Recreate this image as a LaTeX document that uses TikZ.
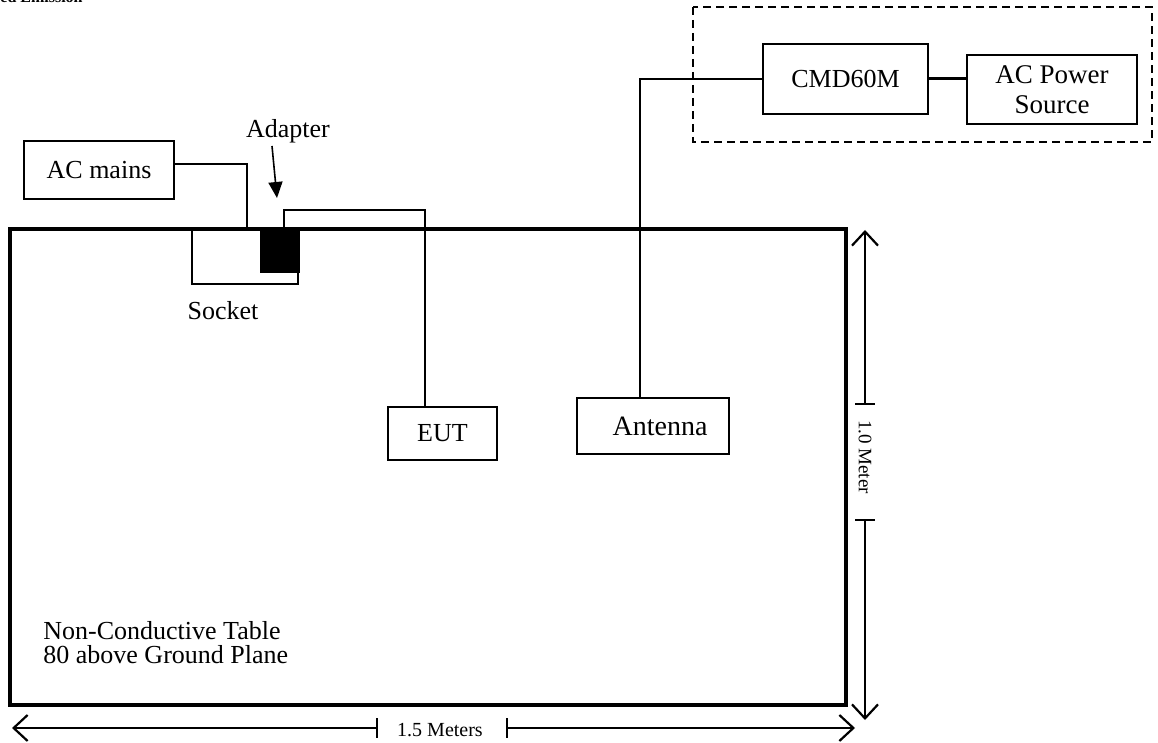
\documentclass[tikz,border=0pt]{standalone}
\usepackage{fontspec}
\setmainfont{Liberation Serif}
\usetikzlibrary{arrows.meta}

\begin{document}
\begin{tikzpicture}[x=0.5pt,y=-0.5pt,
	every node/.style={font=\fontsize{13}{15}\selectfont},
	box/.style={draw, line width=1pt, inner sep=0pt},
	wire/.style={line width=1pt},
	dimline/.style={line width=0.8pt, -{Straight Barb[length=7pt,width=13pt,line width=1.1pt]}}]
	\useasboundingbox (0,0) rectangle (1158,743);
	% title, cut by the page edge
	\node[font=\bfseries\fontsize{8}{9}\selectfont, anchor=base west, inner sep=0pt] (title) at (0,3) {ed Emission};
	% table
	\node[draw, line width=1.6pt, minimum width=418pt, minimum height=238pt, inner sep=0pt] (table) at (428,467) {};
	\node[anchor=north west, align=left, inner sep=0pt, font=\fontsize{13}{12}\selectfont] (tabletext) at (43,621) {Non-Conductive Table\\80 above Ground Plane};
	% socket and adapter
	\node[box, minimum width=53pt, minimum height=27.5pt] (socket) at (245,256.5) {};
	\node[box, fill=black, minimum width=19pt, minimum height=21.5pt] (adapter) at (280,250.5) {};
	\node (socketlabel) at (223,311) {Socket};
	\node (adapterlabel) at (288,131) {Adapter};
	\coordinate (arrowtail) at (272,146);
	\coordinate (arrowtip) at (277,198);
	\draw[line width=0.8pt, -{Triangle[length=8pt,width=7pt]}] (arrowtail) -- (arrowtip);
	% boxes
	\node[box, minimum width=75pt, minimum height=29pt] (acmains) at (99,170) {AC mains};
	\node[box, minimum width=54.5pt, minimum height=26.5pt] (eut) at (442.5,433.5) {EUT};
	\node[box, minimum width=76pt, minimum height=28pt, font=\fontsize{14}{16}\selectfont] (antenna) at (653,426) {\hspace*{7pt}Antenna};
	\node[box, minimum width=82.5pt, minimum height=35pt] (cmd) at (845.5,79) {CMD60M};
	\node[box, minimum width=85pt, minimum height=34.5pt, align=center, font=\fontsize{13.5}{15}\selectfont] (acpower) at (1052,89.5) {AC Power\\Source};
	\draw[line width=0.8pt, dash pattern=on 4pt off 2.5pt] (693,7) rectangle (1152,142);
	% wires
	\coordinate (plugA) at (247,229);
	\coordinate (plugB) at (284,229);
	\coordinate (eutbend) at (425,210);
	\draw[wire] ([yshift=3pt]acmains.east) -| (plugA);
	\draw[wire] (plugB) |- (eutbend) -- (eutbend |- eut.north);
	\draw[wire] ([xshift=-6.5pt]antenna.north) |- (cmd.west);
	\draw[line width=1.5pt] (cmd.east) -- (cmd.east -| acpower.west);
	% dimensions
	\coordinate (vtop) at (865,230);
	\coordinate (vbot) at (865,720);
	\coordinate (vtick1) at (865,404);
	\coordinate (vtick2) at (865,520);
	\draw[dimline] (vtick1) -- (vtop);
	\draw[dimline] (vtick2) -- (vbot);
	\draw[line width=0.8pt] ([xshift=-5pt]vtick1) -- ([xshift=5pt]vtick1);
	\draw[line width=0.8pt] ([xshift=-5pt]vtick2) -- ([xshift=5pt]vtick2);
	\node[rotate=-90, font=\fontsize{9.5}{11}\selectfont] (vlabel) at (865,457) {1.0 Meter};
	\coordinate (hleft) at (12,728);
	\coordinate (hright) at (855,728);
	\coordinate (htick1) at (377,728);
	\coordinate (htick2) at (507,728);
	\draw[dimline] (htick1) -- (hleft);
	\draw[dimline] (htick2) -- (hright);
	\draw[line width=0.8pt] ([yshift=5pt]htick1) -- ([yshift=-5pt]htick1);
	\draw[line width=0.8pt] ([yshift=5pt]htick2) -- ([yshift=-5pt]htick2);
	\node[font=\fontsize{10}{12}\selectfont] (hlabel) at (440,730) {1.5 Meters};
\end{tikzpicture}
\end{document}
